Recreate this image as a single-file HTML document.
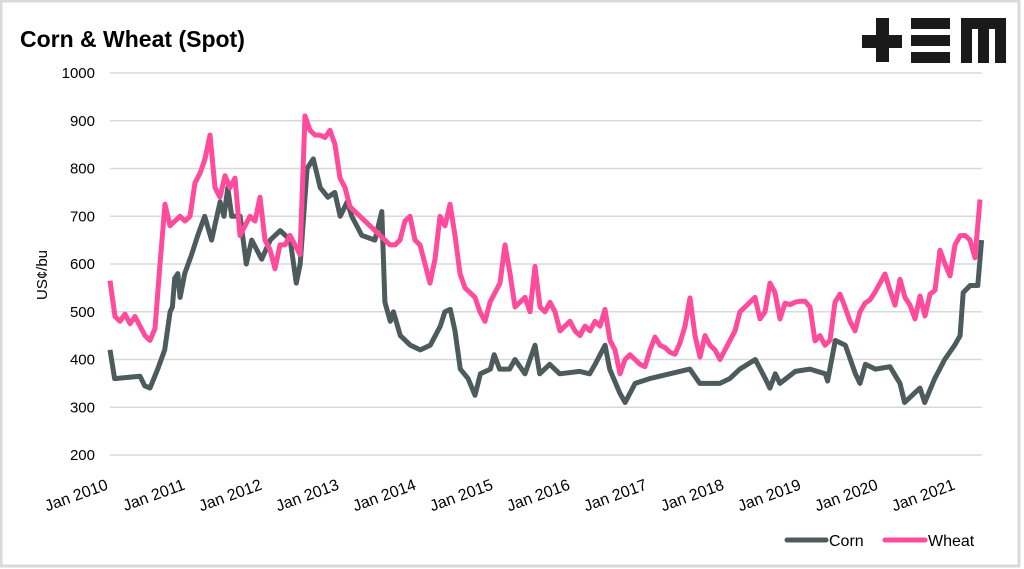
<!DOCTYPE html>
<html><head><meta charset="utf-8"><style>
html,body{margin:0;padding:0;background:#fff;}
svg{display:block;font-family:"Liberation Sans",Arial,sans-serif;}
</style></head><body>
<svg width="1024" height="569" viewBox="0 0 1024 569">
<rect x="1" y="1" width="1018" height="565" fill="#fff" stroke="#d9d9d9" stroke-width="3"/>
<text x="20" y="47" font-size="23" font-weight="bold" fill="#000">Corn &amp; Wheat (Spot)</text>
<g fill="#1a1a1a">
<rect x="862" y="35" width="40" height="13"/><rect x="876" y="18" width="13" height="44"/>
<rect x="911" y="18" width="39" height="11"/><rect x="911" y="35" width="39" height="11"/><rect x="911" y="52" width="39" height="11"/>
<rect x="961" y="18" width="45" height="11"/><rect x="961" y="18" width="11" height="45"/><rect x="978" y="18" width="11" height="45"/><rect x="995" y="18" width="11" height="45"/>
</g>
<g id="grid"></g>
<g id="yticks"></g>
<g id="xticks"></g>
<text transform="translate(47,275) rotate(-90)" text-anchor="middle" font-size="15" fill="#000">US¢/bu</text>
<g id="series"></g>
<g>
<line x1="787" y1="540" x2="826" y2="540" stroke="#4d5b5c" stroke-width="5" stroke-linecap="round"/>
<text x="829" y="546" font-size="16" fill="#000">Corn</text>
<line x1="885" y1="540" x2="925" y2="540" stroke="#ff4b9b" stroke-width="5" stroke-linecap="round"/>
<text x="928" y="546" font-size="16" fill="#000">Wheat</text>
</g>
</svg>
<script>
const yTicks=[200,300,400,500,600,700,800,900,1000];
const xTickYears=[2010,2011,2012,2013,2014,2015,2016,2017,2018,2019,2020,2021];
const cornDates=[2010.00,2010.06,2010.39,2010.45,2010.52,2010.62,2010.71,2010.78,2010.81,2010.84,2010.88,2010.91,2010.97,2011.06,2011.14,2011.23,2011.32,2011.43,2011.48,2011.53,2011.58,2011.69,2011.77,2011.84,2011.97,2012.08,2012.21,2012.34,2012.42,2012.47,2012.56,2012.64,2012.73,2012.83,2012.92,2012.99,2013.08,2013.14,2013.27,2013.44,2013.53,2013.57,2013.64,2013.68,2013.77,2013.90,2014.03,2014.16,2014.29,2014.35,2014.42,2014.48,2014.55,2014.65,2014.74,2014.81,2014.94,2014.99,2015.06,2015.19,2015.26,2015.39,2015.52,2015.58,2015.71,2015.84,2016.10,2016.23,2016.30,2016.43,2016.49,2016.62,2016.69,2016.82,2017.01,2017.27,2017.53,2017.66,2017.92,2018.05,2018.18,2018.38,2018.51,2018.57,2018.64,2018.70,2018.90,2019.09,2019.29,2019.32,2019.42,2019.55,2019.68,2019.74,2019.81,2019.94,2020.13,2020.26,2020.32,2020.45,2020.52,2020.58,2020.71,2020.84,2020.97,2021.04,2021.08,2021.17,2021.27,2021.32];
const cornValues=[420,360,365,345,340,380,420,500,510,570,580,530,580,620,660,700,650,730,700,760,700,700,600,650,610,650,670,650,560,600,800,820,760,740,750,700,730,700,660,650,710,520,480,500,450,430,420,430,470,500,505,460,380,360,325,370,380,410,380,380,400,370,430,370,390,370,375,370,390,430,380,330,310,350,360,370,380,350,350,360,380,400,360,340,370,350,375,380,370,355,440,430,370,350,390,380,385,350,310,330,340,310,360,400,430,450,540,555,555,650];
const wheatStart=2010.0;
const wheatStep=5/77;
const wheatValues=[565,490,480,495,475,490,470,450,440,465,600,725,680,690,700,690,700,770,790,820,870,760,740,785,760,780,660,680,700,690,740,650,630,590,640,640,660,640,620,910,880,870,870,865,880,850,780,760,720,710,700,690,680,670,660,650,640,640,650,690,700,650,640,600,560,610,700,680,725,660,580,550,540,530,500,480,520,540,560,640,580,510,520,530,500,595,510,500,520,500,460,470,480,460,450,470,460,480,470,505,440,420,370,400,410,400,390,385,420,447,430,425,415,411,435,470,529,450,405,450,430,420,400,420,440,460,500,510,520,530,485,500,560,540,485,518,515,520,522,522,510,439,450,430,440,520,537,510,480,460,500,518,525,541,560,579,545,514,568,530,514,485,533,491,537,545,629,600,575,640,659,660,650,613,735];
const NS='http://www.w3.org/2000/svg';
const X0=110,PX_PER_YEAR=77,Y200=455,PX_PER_UNIT=0.4775,XR=982;
function xs(t){return X0+(t-2010)*PX_PER_YEAR;}
function ys(v){return Y200-(v-200)*PX_PER_UNIT;}
const grid=document.getElementById('grid'),yt=document.getElementById('yticks'),xt=document.getElementById('xticks'),ser=document.getElementById('series');
yTicks.forEach(v=>{
 const l=document.createElementNS(NS,'line');
 l.setAttribute('x1',X0);l.setAttribute('x2',XR);l.setAttribute('y1',ys(v));l.setAttribute('y2',ys(v));
 l.setAttribute('stroke','#d9d9d9');l.setAttribute('stroke-width','1.5');
 
 
 grid.appendChild(l);
 const t=document.createElementNS(NS,'text');
 t.setAttribute('x',95);t.setAttribute('y',ys(v)+5);t.setAttribute('text-anchor','end');t.setAttribute('font-size','15');
 t.textContent=v;
 
 
 yt.appendChild(t);
});
xTickYears.forEach(y=>{
 const t=document.createElementNS(NS,'text');
 const x=xs(y)-1,yy=489;
 t.setAttribute('transform','translate('+x+','+yy+') rotate(-20)');
 t.setAttribute('text-anchor','end');t.setAttribute('font-size','16');
 t.textContent='Jan '+y;
 
 
 xt.appendChild(t);
});
function drawLine(pts,color,name){
 const p=document.createElementNS(NS,'polyline');
 p.setAttribute('points',pts.map(a=>xs(a[0]).toFixed(1)+','+ys(a[1]).toFixed(1)).join(' '));
 p.setAttribute('fill','none');p.setAttribute('stroke',color);p.setAttribute('stroke-width','5');p.setAttribute('stroke-linejoin','round');
 
 
 ser.appendChild(p);
}
drawLine(cornDates.map((d,i)=>[d,cornValues[i]]),'#4d5b5c','corn-line');
drawLine(wheatValues.map((v,i)=>[wheatStart+i*wheatStep,v]),'#ff4b9b','wheat-line');
</script>
</body></html>
